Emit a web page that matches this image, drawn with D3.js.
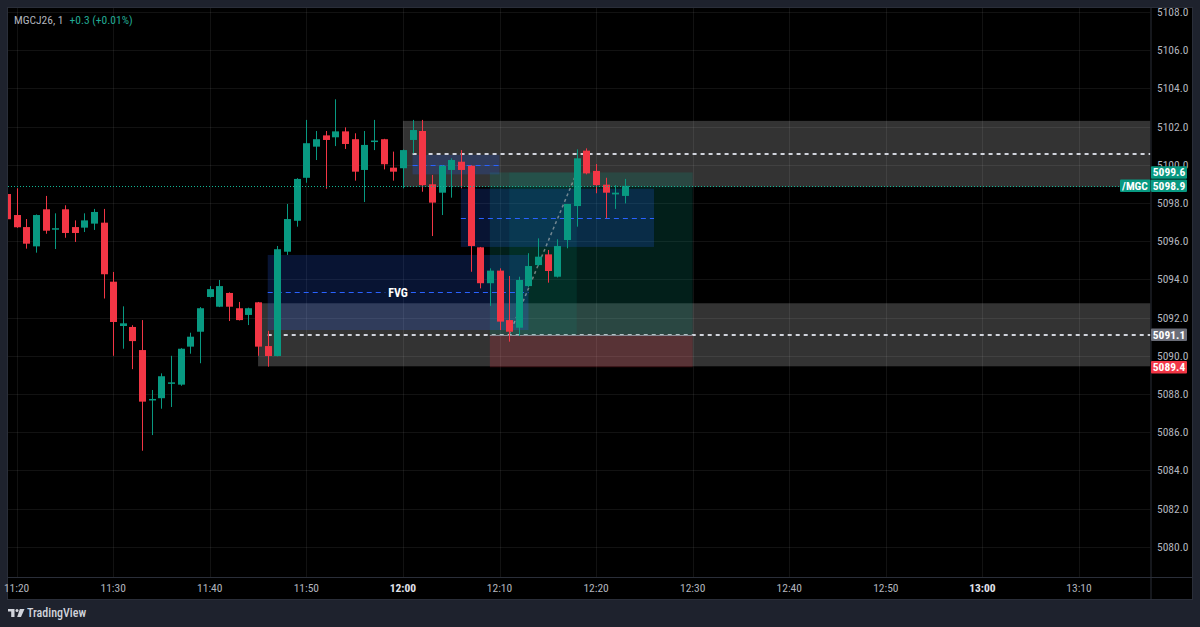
<!DOCTYPE html>
<html><head><meta charset="utf-8">
<script src="https://cdn.jsdelivr.net/npm/d3@7"></script>
<style>
html,body{margin:0;padding:0;background:#1e222d;}
svg{display:block}
text{font-family:'Liberation Sans Narrow','Roboto Condensed',Roboto,sans-serif;}
</style></head><body>
<svg id="c" width="1200" height="627"></svg>
<script>
// ---------- data ----------
const times = ["11:19","11:20","11:21","11:22","11:23","11:24","11:25","11:26","11:27","11:28","11:29",
"11:30","11:31","11:32","11:33","11:34","11:35","11:36","11:37","11:38","11:39",
"11:40","11:41","11:42","11:43","11:44","11:45","11:46","11:47","11:48","11:49",
"11:50","11:51","11:52","11:53","11:54","11:55","11:56","11:57","11:58","11:59",
"12:00","12:01","12:02","12:03","12:04","12:05","12:06","12:07","12:08","12:09",
"12:10","12:11","12:12","12:13","12:14","12:15","12:16","12:17","12:18","12:19",
"12:20","12:21","12:22","12:23"];
const opens = [5098.47,5097.37,5096.74,5095.73,5097.67,5096.64,5097.67,5096.74,5096.71,5096.92,5096.97,
5093.88,5091.56,5091.51,5090.30,5087.69,5087.78,5088.57,5088.49,5090.48,5091.26,
5093.08,5092.57,5093.29,5092.49,5092.14,5092.80,5090.51,5089.99,5095.45,5097.07,
5099.32,5100.95,5101.54,5101.44,5101.75,5101.34,5099.73,5101.22,5101.34,5099.85,
5099.82,5101.30,5101.77,5098.98,5098.54,5099.73,5100.16,5099.95,5095.68,5093.80,
5094.46,5091.87,5091.47,5093.65,5094.75,5095.31,5094.14,5096.06,5097.84,5100.74,
5099.68,5098.96,5098.45,5098.37];
const highs = [5098.60,5098.77,5097.16,5097.40,5098.37,5097.46,5097.88,5097.09,5097.46,5097.69,5097.69,
5094.39,5092.59,5091.60,5091.87,5088.21,5089.08,5090.00,5090.40,5091.21,5092.55,
5093.65,5093.97,5093.32,5092.82,5092.52,5092.82,5091.31,5095.75,5097.95,5099.30,
5102.35,5101.77,5101.77,5103.43,5101.96,5101.65,5101.77,5102.35,5101.36,5100.69,
5100.80,5102.35,5102.35,5099.47,5099.97,5100.34,5100.77,5099.97,5095.70,5094.58,
5094.58,5094.18,5094.14,5095.37,5096.15,5095.54,5096.10,5097.95,5100.81,5100.86,
5100.04,5099.32,5098.94,5099.26];
const lows = [5097.10,5096.70,5095.61,5095.40,5096.39,5095.59,5096.18,5095.96,5096.48,5096.59,5093.00,
5090.00,5090.37,5089.30,5085.03,5085.85,5087.23,5087.32,5088.43,5090.11,5089.61,
5093.05,5092.55,5091.82,5091.85,5091.61,5090.00,5089.43,5089.97,5095.28,5096.76,
5099.06,5100.25,5098.75,5100.98,5100.83,5099.17,5098.05,5100.77,5099.76,5099.17,
5098.77,5100.60,5098.59,5096.27,5097.37,5098.28,5098.77,5094.40,5093.53,5092.61,
5091.35,5090.74,5091.04,5093.60,5094.70,5093.83,5094.10,5095.63,5096.76,5099.50,
5098.51,5097.20,5097.69,5097.98];
const closes = [5097.15,5096.73,5095.87,5097.37,5096.55,5096.68,5096.43,5096.43,5097.09,5097.53,5094.27,
5091.77,5091.70,5090.77,5087.60,5087.74,5088.93,5088.61,5090.37,5091.00,5092.49,
5093.49,5093.65,5092.57,5091.87,5092.49,5090.48,5089.99,5095.58,5097.16,5099.26,
5101.13,5101.34,5101.30,5101.75,5101.09,5099.64,5101.04,5101.27,5100.03,5099.64,
5100.77,5101.82,5098.94,5098.02,5099.95,5100.25,5099.73,5095.75,5093.80,5094.46,
5091.79,5091.26,5093.97,5094.70,5095.19,5094.44,5095.75,5097.95,5100.34,5099.55,
5098.94,5098.54,5098.54,5098.90];

const priceTicks = [5080,5082,5084,5086,5088,5090,5092,5094,5096,5098,5100,5102,5104,5106,5108];
const timeTicks = ["11:20","11:30","11:40","11:50","12:00","12:10","12:20","12:30","12:40","12:50","13:00","13:10"];
const boldTimeTicks = ["12:00","13:00"];

const symbolName = "MGCJ26, 1";
const changeText = "+0.3 (+0.01%)";
const lastPrice = 5098.9;
const lastPriceTag = "/MGC";

const grayZones = [
  {from:"12:00", top:5102.3, bottom:5098.85},
  {from:"11:45", top:5092.75, bottom:5089.45}
];
const levelLines = [
  {from:"12:01", price:5100.55},
  {from:"11:46", price:5091.1}
];
const fvgZones = [
  {from:"11:46", to:"12:13", top:5095.28, bottom:5091.35, label:"FVG"},
  {from:"12:01", to:"12:10", top:5100.52, bottom:5099.5, label:""},
  {from:"12:06", to:"12:26", top:5098.75, bottom:5095.7, label:""}
];
const longPosition = {from:"12:09", to:"12:30", entry:5091.1, target:5099.6, stop:5089.4,
  fillTime:"12:11", exitTime:"12:18"};

// ---------- layout ----------
const svg = d3.select("#c");
const P = {l:8, t:8, r:1150.5, b:577, outerR:1192, outerB:599};
const parse = d3.timeParse("%H:%M");
const x = d3.scaleTime().domain([parse("11:20"), parse("13:10")]).range([16.6, 1079]);
const y = d3.scaleLinear().domain([5080, 5108]).range([546.8, 12]);
const xt = s => x(parse(s));
const snap = v => Math.round(v) + 0.5;

// panel
svg.append("rect").attr("x",P.l-0.5).attr("y",P.t-0.5).attr("width",P.outerR-P.l+1).attr("height",P.outerB-P.t+1)
  .attr("fill","#000").attr("stroke","#2a2e39");

const defs = svg.append("defs");
defs.append("clipPath").attr("id","plot").append("rect")
  .attr("x",P.l).attr("y",P.t).attr("width",P.r-P.l).attr("height",P.b-P.t);

const plot = svg.append("g").attr("clip-path","url(#plot)");

// grid
plot.selectAll("line.hg").data(priceTicks).join("line").attr("class","hg")
  .attr("x1",P.l).attr("x2",P.r).attr("y1",d=>snap(y(d))).attr("y2",d=>snap(y(d)))
  .attr("stroke","rgba(255,255,255,0.07)");
plot.selectAll("line.vg").data(timeTicks).join("line").attr("class","vg")
  .attr("y1",P.t).attr("y2",P.b).attr("x1",d=>snap(xt(d))).attr("x2",d=>snap(xt(d)))
  .attr("stroke","rgba(255,255,255,0.07)");

// gray zones
plot.selectAll("rect.gz").data(grayZones).join("rect").attr("class","gz")
  .attr("x",d=>xt(d.from)).attr("width",d=>P.r-xt(d.from))
  .attr("y",d=>y(d.top)).attr("height",d=>y(d.bottom)-y(d.top))
  .attr("fill","rgba(255,255,255,0.2)");

// white dashed level lines
plot.selectAll("line.lv").data(levelLines).join("line").attr("class","lv")
  .attr("x1",d=>xt(d.from)).attr("x2",P.r).attr("y1",d=>Math.round(y(d.price))).attr("y2",d=>Math.round(y(d.price)))
  .attr("stroke","#d1d4dc").attr("stroke-width",2).attr("stroke-dasharray","4 4");

// long position
const lp = longPosition;
const lx0 = xt(lp.from), lx1 = xt(lp.to);
plot.append("rect").attr("x",lx0).attr("width",lx1-lx0).attr("y",y(lp.target)).attr("height",y(lp.entry)-y(lp.target))
  .attr("fill","rgba(8,153,129,0.2)");
plot.append("rect").attr("x",lx0).attr("width",lx1-lx0).attr("y",y(lp.entry)).attr("height",y(lp.stop)-y(lp.entry))
  .attr("fill","rgba(242,54,69,0.2)");
plot.append("rect").attr("x",xt(lp.fillTime)).attr("width",xt(lp.exitTime)-xt(lp.fillTime))
  .attr("y",y(lp.target)).attr("height",y(lp.entry)-y(lp.target)).attr("fill","rgba(8,153,129,0.12)");

// FVG zones
fvgZones.forEach(z=>{
  const x0 = xt(z.from), x1 = xt(z.to), ym = snap(y((z.top+z.bottom)/2));
  plot.append("rect").attr("x",x0).attr("width",x1-x0).attr("y",y(z.top)).attr("height",y(z.bottom)-y(z.top))
    .attr("fill","rgba(41,98,255,0.2)");
  if (z.label) {
    const t = plot.append("text").attr("x",(x0+x1)/2).attr("y",ym).attr("dy","0.35em")
      .attr("text-anchor","middle").attr("fill","#fff").attr("font-size",12).attr("font-weight","bold").text(z.label);
    const w = t.node().getComputedTextLength();
    plot.append("line").attr("x1",x0).attr("x2",(x0+x1)/2-w/2-3).attr("y1",ym).attr("y2",ym)
      .attr("stroke","#2962ff").attr("stroke-dasharray","5 4");
    plot.append("line").attr("x1",(x0+x1)/2+w/2+3).attr("x2",x1).attr("y1",ym).attr("y2",ym)
      .attr("stroke","#2962ff").attr("stroke-dasharray","5 4");
  } else {
    plot.append("line").attr("x1",x0).attr("x2",x1).attr("y1",ym).attr("y2",ym)
      .attr("stroke","#2962ff").attr("stroke-dasharray","5 4");
  }
});

// entry line and trade path
plot.append("line").attr("x1",lx0).attr("x2",lx1).attr("y1",snap(y(lp.entry))).attr("y2",snap(y(lp.entry)))
  .attr("stroke","#8a8d96").attr("stroke-width",1);
plot.append("line").attr("x1",xt(lp.fillTime)).attr("y1",y(lp.entry)).attr("x2",xt(lp.exitTime)).attr("y2",y(lp.target))
  .attr("stroke","rgba(200,200,200,0.55)").attr("stroke-width",1.5).attr("stroke-dasharray","3 3");

// candles
const candles = times.map((t,i)=>({t, o:opens[i], h:highs[i], l:lows[i], c:closes[i]}));
const up = "#089981", dn = "#f23645";
const cg = plot.append("g");
cg.selectAll("line").data(candles).join("line")
  .attr("x1",d=>snap(xt(d.t))).attr("x2",d=>snap(xt(d.t)))
  .attr("y1",d=>y(d.h)).attr("y2",d=>y(d.l))
  .attr("stroke",d=>d.c>=d.o?up:dn);
cg.selectAll("rect").data(candles).join("rect")
  .attr("x",d=>Math.round(xt(d.t))-3).attr("width",7)
  .attr("y",d=>y(Math.max(d.o,d.c)))
  .attr("height",d=>Math.max(1.5, Math.abs(y(d.o)-y(d.c))))
  .attr("fill",d=>d.c>=d.o?up:dn);

// last price line
plot.append("line").attr("x1",P.l).attr("x2",P.r).attr("y1",snap(y(lastPrice))).attr("y2",snap(y(lastPrice)))
  .attr("stroke","#10b594").attr("stroke-dasharray","1 2");

// separators
svg.append("line").attr("x1",P.l).attr("x2",P.outerR).attr("y1",P.b+0.5).attr("y2",P.b+0.5).attr("stroke","#2a2e39");
svg.append("line").attr("x1",P.r+0.5).attr("x2",P.r+0.5).attr("y1",P.t).attr("y2",P.outerB).attr("stroke","#2a2e39");

// price axis labels
svg.selectAll("text.pl").data(priceTicks).join("text").attr("class","pl")
  .attr("x",1157).attr("y",d=>y(d)).attr("dy","0.35em").attr("fill","#b2b5be").attr("font-size",11.5)
  .text(d=>d3.format(".1f")(d));

// time axis labels
svg.selectAll("text.tl").data(timeTicks).join("text").attr("class","tl")
  .attr("x",d=>xt(d)).attr("y",588).attr("dy","0.35em").attr("text-anchor","middle")
  .attr("fill",d=>boldTimeTicks.includes(d)?"#e0e3eb":"#b2b5be")
  .attr("font-weight",d=>boldTimeTicks.includes(d)?"bold":"normal")
  .attr("font-size",11.5).text(d=>d);

// colored price tags (drawn over the axis labels, as in the reference)
function tag(price, bg, label){
  const cy = y(price);
  svg.append("rect").attr("x",1151).attr("y",cy-6.3).attr("width",36).attr("height",12.6).attr("fill",bg).attr("rx",1);
  svg.append("text").attr("x",1169).attr("y",cy).attr("dy","0.35em").attr("text-anchor","middle")
    .attr("fill","#fff").attr("font-size",11.5).attr("font-weight","bold").text(label);
}
tag(lp.target, up, d3.format(".1f")(lp.target));
tag(lastPrice, up, d3.format(".1f")(lastPrice));
tag(lp.entry, "#6a6d78", d3.format(".1f")(lp.entry));
tag(lp.stop, dn, d3.format(".1f")(lp.stop));
{
  const cy = y(lastPrice);
  svg.append("rect").attr("x",1120).attr("y",cy-6.3).attr("width",30.5).attr("height",12.6).attr("fill",up).attr("rx",1);
  svg.append("text").attr("x",1135).attr("y",cy).attr("dy","0.35em").attr("text-anchor","middle")
    .attr("fill","#fff").attr("font-size",11.5).attr("font-weight","bold").text(lastPriceTag);
}

// header
const hdr = svg.append("text").attr("x",14).attr("y",20).attr("dy","0.35em").attr("font-size",11.5);
hdr.append("tspan").attr("fill","#b2b5be").text(symbolName);
hdr.append("tspan").attr("fill","#22ab94").attr("dx",6).text(changeText);

// TradingView logo
const lg = svg.append("g").attr("fill","#d1d4dc");
lg.append("path").attr("d","M8,609 H14.5 V617 H11.2 V611.6 H8 Z");
lg.append("circle").attr("cx",17).attr("cy",610.4).attr("r",1.5);
lg.append("path").attr("d","M19.8,609 H24.5 L21,617 H17.2 Z");
svg.append("text").attr("x",27).attr("y",613).attr("dy","0.35em").attr("fill","#d1d4dc")
  .attr("font-size",12).attr("font-weight","500").text("TradingView");
</script>
</body></html>
